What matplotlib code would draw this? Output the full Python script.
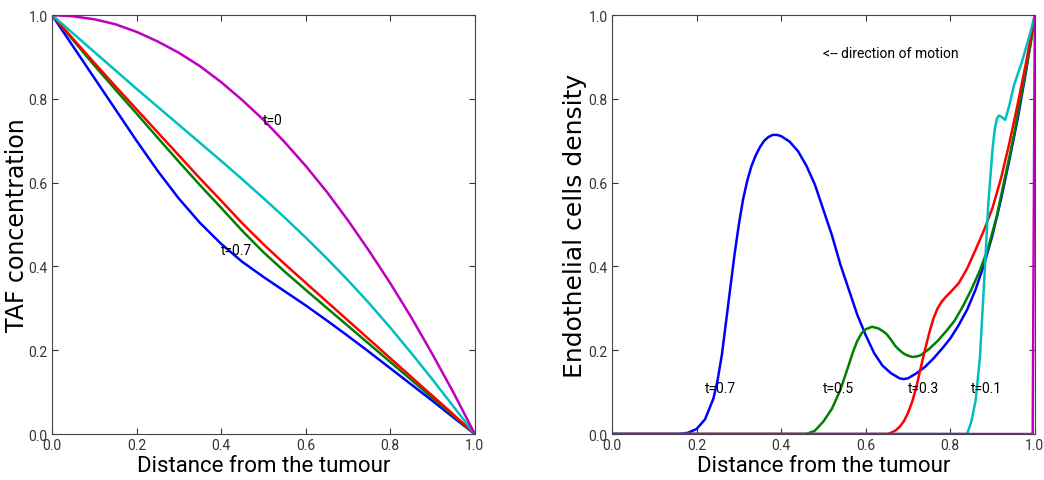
import matplotlib
matplotlib.use('Agg')
import matplotlib.pyplot as plt

plt.rcParams['font.family'] = ['Roboto', 'DejaVu Sans']

# TAF concentration profiles (left panel), common grid
taf_x = [0.0, 0.05, 0.1, 0.15, 0.2, 0.25, 0.3, 0.35, 0.4, 0.45, 0.5,
         0.55, 0.6, 0.65, 0.7, 0.75, 0.8, 0.85, 0.9, 0.95, 1.0]
taf_t0 = [1.0, 0.997, 0.99, 0.978, 0.96, 0.937, 0.91, 0.878, 0.84, 0.797, 0.75,
          0.697, 0.64, 0.578, 0.51, 0.437, 0.36, 0.278, 0.19, 0.098, 0.0]
taf_t01 = [1.0, 0.956, 0.912, 0.868, 0.824, 0.781, 0.738, 0.695, 0.652, 0.608, 0.563,
           0.517, 0.469, 0.419, 0.367, 0.312, 0.254, 0.193, 0.130, 0.065, 0.0]
taf_t03 = [1.0, 0.943, 0.886, 0.83, 0.775, 0.72, 0.665, 0.61, 0.557, 0.503, 0.453,
           0.406, 0.361, 0.316, 0.271, 0.226, 0.181, 0.136, 0.091, 0.046, 0.0]
taf_t05 = [1.0, 0.94, 0.88, 0.822, 0.765, 0.707, 0.65, 0.594, 0.54, 0.485, 0.434,
           0.388, 0.344, 0.301, 0.258, 0.215, 0.172, 0.129, 0.086, 0.043, 0.0]
taf_t07 = [1.0, 0.925, 0.85, 0.775, 0.70, 0.628, 0.562, 0.504, 0.454, 0.411, 0.375,
           0.341, 0.307, 0.271, 0.234, 0.196, 0.157, 0.118, 0.079, 0.039, 0.0]

# endothelial cell density profiles (right panel)
ec_x_t0 = [0.0, 0.995, 1.0]
ec_t0 = [0.0, 0.0, 1.0]

ec_x_t01 = [0.0, 0.84, 0.85, 0.86, 0.87, 0.88, 0.89, 0.90, 0.905, 0.91, 0.915,
            0.92, 0.93, 0.94, 0.95, 0.96, 0.97, 0.98, 0.99, 1.0]
ec_t01 = [0.0, 0.0, 0.03, 0.08, 0.18, 0.36, 0.55, 0.68, 0.725, 0.752, 0.76,
          0.758, 0.75, 0.785, 0.83, 0.86, 0.89, 0.925, 0.96, 1.0]

ec_x_t03 = [0.0, 0.65, 0.66, 0.67, 0.68, 0.69, 0.70, 0.71, 0.72, 0.73, 0.74,
            0.75, 0.76, 0.77, 0.78, 0.79, 0.80, 0.82, 0.84, 0.86, 0.88, 0.90,
            0.92, 0.94, 0.96, 0.98, 1.0]
ec_t03 = [0.0, 0.0, 0.003, 0.008, 0.017, 0.03, 0.05, 0.077, 0.113, 0.157, 0.2,
          0.24, 0.275, 0.3, 0.316, 0.328, 0.338, 0.36, 0.395, 0.44, 0.487, 0.54,
          0.61, 0.695, 0.79, 0.89, 1.0]

ec_x_t05 = [0.0, 0.46, 0.48, 0.50, 0.52, 0.54, 0.56, 0.57, 0.58, 0.59, 0.60,
            0.615, 0.63, 0.64, 0.65, 0.66, 0.67, 0.68, 0.69, 0.70, 0.71, 0.72,
            0.73, 0.75, 0.77, 0.79, 0.81, 0.83, 0.85, 0.87, 0.89, 0.91, 0.93,
            0.95, 0.97, 0.99, 1.0]
ec_t05 = [0.0, 0.0, 0.008, 0.03, 0.06, 0.105, 0.165, 0.196, 0.222, 0.24, 0.25,
          0.256, 0.252, 0.246, 0.238, 0.225, 0.21, 0.2, 0.192, 0.187, 0.184, 0.185,
          0.188, 0.203, 0.222, 0.245, 0.27, 0.305, 0.345, 0.39, 0.445, 0.52, 0.615,
          0.71, 0.82, 0.93, 1.0]

ec_x_t07 = [0.0, 0.16, 0.18, 0.20, 0.22, 0.24, 0.25, 0.26, 0.27, 0.28, 0.29,
            0.30, 0.31, 0.32, 0.33, 0.34, 0.35, 0.36, 0.37, 0.38, 0.39, 0.40,
            0.42, 0.44, 0.46, 0.48, 0.50, 0.52, 0.54, 0.56, 0.58, 0.60, 0.62,
            0.64, 0.66, 0.68, 0.69, 0.70, 0.72, 0.74, 0.76, 0.78, 0.80, 0.82,
            0.84, 0.86, 0.88, 0.90, 0.92, 0.94, 0.96, 0.98, 1.0]
ec_t07 = [0.0, 0.0, 0.003, 0.012, 0.035, 0.085, 0.13, 0.19, 0.27, 0.35, 0.43,
          0.50, 0.56, 0.605, 0.64, 0.665, 0.685, 0.70, 0.709, 0.714, 0.714, 0.711,
          0.698, 0.675, 0.64, 0.595, 0.535, 0.475, 0.405, 0.345, 0.285, 0.236, 0.193,
          0.163, 0.145, 0.133, 0.131, 0.133, 0.145, 0.16, 0.18, 0.203, 0.228, 0.26,
          0.297, 0.345, 0.405, 0.475, 0.56, 0.655, 0.755, 0.87, 1.0]

LW = 1.8
fig = plt.figure(figsize=(10.44, 4.81), dpi=100)
ax1 = fig.add_axes([0.0498, 0.0956, 0.405, 0.871])
ax2 = fig.add_axes([0.5862, 0.0956, 0.405, 0.871])

ax1.plot(taf_x, taf_t07, color='b', lw=LW)
ax1.plot(taf_x, taf_t05, color='g', lw=LW)
ax1.plot(taf_x, taf_t03, color='r', lw=LW)
ax1.plot(taf_x, taf_t01, color='c', lw=LW)
ax1.plot(taf_x, taf_t0, color='m', lw=LW)
ax1.text(0.5, 0.74, 't=0', fontsize=10)
ax1.text(0.4, 0.43, 't=0.7', fontsize=10)
ax1.set_ylabel('TAF concentration', fontsize=17, family='DejaVu Sans', labelpad=0)

ax2.plot(ec_x_t07, ec_t07, color='b', lw=LW)
ax2.plot(ec_x_t05, ec_t05, color='g', lw=LW)
ax2.plot(ec_x_t03, ec_t03, color='r', lw=LW)
ax2.plot(ec_x_t01, ec_t01, color='c', lw=LW)
ax2.plot(ec_x_t0, ec_t0, color='m', lw=LW)
ax2.text(0.5, 0.9, '<-- direction of motion', fontsize=10)
for xt, lab in [(0.22, 't=0.7'), (0.5, 't=0.5'), (0.7, 't=0.3'), (0.85, 't=0.1')]:
    ax2.text(xt, 0.1, lab, fontsize=10)
ax2.set_ylabel('Endothelial cells density', fontsize=18, family='DejaVu Sans', labelpad=1)

for ax in (ax1, ax2):
    ax.set_xlim(0, 1)
    ax.set_ylim(0, 1)
    ax.set_xticks([0, 0.2, 0.4, 0.6, 0.8, 1.0])
    ax.set_yticks([0, 0.2, 0.4, 0.6, 0.8, 1.0])
    ax.xaxis.set_major_formatter(plt.FormatStrFormatter('%.1f'))
    ax.yaxis.set_major_formatter(plt.FormatStrFormatter('%.1f'))
    ax.tick_params(direction='in', top=True, right=True, length=4,
                   labelsize=10, colors='#333333', pad=3)
    ax.set_xlabel('Distance from the tumour', fontsize=16, labelpad=2)
    for sp in ax.spines.values():
        sp.set_color('#444444')

fig.savefig('out.png', dpi=100)
